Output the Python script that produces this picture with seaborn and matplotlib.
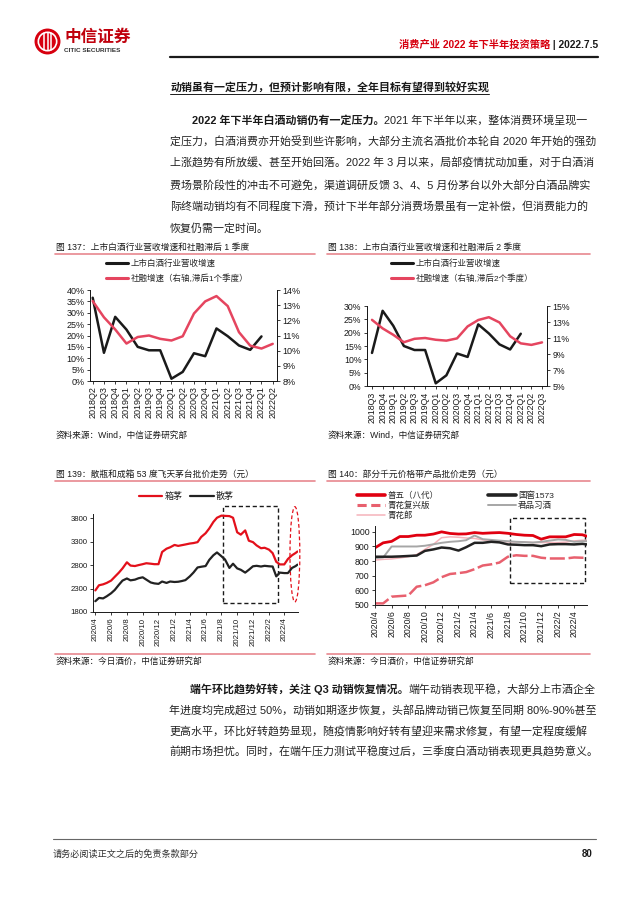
import matplotlib
matplotlib.use("Agg")
import numpy as np
import pandas as pd
import matplotlib.pyplot as plt
import matplotlib.dates as mdates
import seaborn as sns
from matplotlib.patches import Rectangle, Ellipse, Circle
from matplotlib.lines import Line2D
from matplotlib.ticker import FuncFormatter

# ---- data: fig 137 / 138 (quarterly) ----
quarters137 = ['2018Q2', '2018Q3', '2018Q4', '2019Q1', '2019Q2', '2019Q3', '2019Q4', '2020Q1', '2020Q2',
               '2020Q3', '2020Q4', '2021Q1', '2021Q2', '2021Q3', '2021Q4', '2022Q1', '2022Q2']
quarters138 = ['2018Q3', '2018Q4', '2019Q1', '2019Q2', '2019Q3', '2019Q4', '2020Q1', '2020Q2', '2020Q3',
               '2020Q4', '2021Q1', '2021Q2', '2021Q3', '2021Q4', '2022Q1', '2022Q2', '2022Q3']
# listed baijiu revenue growth (%), 2018Q2 .. 2022Q1
liquor_rev = [36.6, 12.4, 28.2, 22.6, 15.0, 13.5, 13.5, 1.0, 4.0, 12.2, 10.9, 23.1, 19.7, 15.6, 13.7, 19.6]
# social financing growth (%), lagged series
tsf_growth = [13.27, 12.2, 11.4, 10.47, 10.9, 11.0, 10.78, 10.67, 10.95, 12.45, 13.25, 13.6, 12.94,
              11.22, 10.33, 10.14, 10.45]

# ---- data: fig 139 (Feitian Moutai wholesale price) ----
dates139 = ['2020-04-01', '2020-04-15', '2020-05-01', '2020-05-15', '2020-06-01', '2020-06-15', '2020-07-01',
            '2020-07-15', '2020-08-01', '2020-08-15', '2020-09-01', '2020-09-15', '2020-10-01', '2020-10-15',
            '2020-11-01', '2020-11-15', '2020-12-01', '2020-12-15', '2021-01-01', '2021-01-15', '2021-02-01',
            '2021-02-15', '2021-03-01', '2021-03-15', '2021-04-01', '2021-04-15', '2021-05-01', '2021-05-15',
            '2021-06-01', '2021-06-15', '2021-07-01', '2021-07-15', '2021-08-01', '2021-08-15', '2021-09-01',
            '2021-09-15', '2021-10-01', '2021-10-15', '2021-11-01', '2021-11-15', '2021-12-01', '2021-12-15',
            '2022-01-01', '2022-01-15', '2022-02-01', '2022-02-15', '2022-03-01', '2022-03-15', '2022-04-01',
            '2022-04-15', '2022-05-01', '2022-05-15', '2022-05-22']
box_maotai = [2260, 2370, 2390, 2420, 2470, 2550, 2640, 2730, 2860, 2790, 2780, 2800, 2820, 2840, 2830, 2820,
              2820, 3080, 3150, 3180, 3230, 3210, 3225, 3240, 3260, 3270, 3290, 3400, 3480, 3580, 3720, 3810,
              3855, 3850, 3845, 3810, 3500, 3450, 3540, 3320, 3290, 3220, 3160, 3170, 3130, 3055, 2870, 2815,
              2815, 2930, 3010, 3060, 3090]
loose_maotai = [2030, 2100, 2090, 2135, 2200, 2270, 2380, 2470, 2515, 2475, 2490, 2520, 2540, 2490, 2430, 2410,
                2400, 2450, 2420, 2450, 2440, 2445, 2460, 2480, 2560, 2640, 2750, 2765, 2780, 2910, 3010, 3070,
                2990, 2920, 2740, 2830, 2730, 2700, 2640, 2700, 2775, 2785, 2770, 2785, 2775, 2770, 2560, 2640,
                2630, 2630, 2740, 2780, 2810]

# ---- data: fig 140 (1000-yuan products) ----
dates140 = ['2020-04-01', '2020-05-01', '2020-06-01', '2020-07-01', '2020-08-01', '2020-09-01', '2020-10-01',
            '2020-11-01', '2020-12-01', '2021-01-01', '2021-02-01', '2021-03-01', '2021-04-01', '2021-05-01',
            '2021-06-01', '2021-07-01', '2021-08-01', '2021-09-01', '2021-10-01', '2021-11-01', '2021-12-01',
            '2022-01-01', '2022-02-01', '2022-03-01', '2022-04-01', '2022-05-01', '2022-05-18']
puwu = [891, 925, 935, 968, 968, 977, 977, 985, 1000, 989, 985, 986, 995, 990, 993, 995, 990, 982, 977, 975,
        950, 966, 966, 966, 982, 980, 970]
guojiao = [830, 830, 830, 832, 835, 838, 870, 880, 893, 888, 872, 895, 925, 925, 932, 928, 914, 912, 909, 909,
           902, 914, 916, 916, 914, 918, 914]
junpin = [820, 825, 900, 900, 900, 900, 905, 915, 925, 932, 936, 943, 975, 950, 945, 940, 936, 932, 930, 927,
          932, 940, 948, 945, 932, 936, 936]
qinghualang = [807, 812, 815, 822, 830, 845, 880, 915, 960, 966, 963, 958, 955, 945, 940, 935, 932, 932, 930,
               927, 927, 927, 927, 930, 938, 943, 943]
fuxing = [511, 511, 557, 561, 565, 625, 635, 655, 690, 712, 718, 725, 745, 770, 778, 790, 830, 840, 836, 836,
          823, 818, 818, 818, 825, 823, 823]

# highlight windows drawn on fig 139 / 140
box139 = ('2021-08-08', '2022-03-06', 1990, 4070)
oval139 = ('2022-05-12', 3030, 38, 2030)
box140 = ('2021-08-07', '2022-05-09', 652, 1095)

RED = '#e5455f'
DARK = '#1a1a1a'

sns.set_theme(style="white")
plt.rcParams['font.family'] = ['Liberation Sans', 'Noto Sans CJK SC']
plt.rcParams['axes.unicode_minus'] = False

W, H = 640, 905
fig = plt.figure(figsize=(6.4, 9.05), dpi=100)
renderer = fig.canvas.get_renderer()


def fx(x):
    return x / W


def fy(y):
    return 1 - y / H


def box(l, t, r, b):
    return [fx(l), fy(b), (r - l) / W, (b - t) / H]


def put(x, y, s, size, weight='normal', color='#222222', ha='left'):
    return fig.text(fx(x), fy(y), s, fontsize=size, fontweight=weight, color=color, ha=ha, va='center')


def put_runs(x, y, runs, size):
    for s, weight, color in runs:
        t = put(x, y, s, size, weight, color)
        x += t.get_window_extent(renderer).width
    return x


def hline(x0, x1, y, color, lw):
    fig.add_artist(Line2D([fx(x0), fx(x1)], [fy(y), fy(y)], transform=fig.transFigure, color=color, lw=lw))


def style_axes(ax, size):
    for s in ax.spines.values():
        s.set_color(DARK)
        s.set_linewidth(0.7)
    ax.spines['top'].set_visible(False)
    ax.tick_params(direction='out', length=2.5, width=0.6, labelsize=size, pad=1.5, colors=DARK)
    ax.set_xlabel('')
    ax.set_ylabel('')


# ---------------- header ----------------
logo = fig.add_axes(box(34, 28, 61, 55))
logo.set_xlim(0, 1)
logo.set_ylim(0, 1)
logo.set_aspect('equal')
logo.axis('off')
logo.add_patch(Circle((0.5, 0.5), 0.48, fc='#d7000f', ec='none'))
logo.add_patch(Circle((0.5, 0.5), 0.34, fc='none', ec='white', lw=1.2))
for xx in (0.38, 0.5, 0.62):
    logo.plot([xx, xx], [0.2, 0.8], color='white', lw=1.1)
put(64, 37, '中信证券', 12.0, 'bold', '#c0000c')
put(64, 51, 'CITIC SECURITIES', 4.6, 'bold', '#333333')

t = put(598, 45, ' | 2022.7.5', 7.4, 'bold', DARK, ha='right')
put(598 - t.get_window_extent(renderer).width, 45, '消费产业 2022 年下半年投资策略', 7.4, 'bold', '#d7000f', ha='right')
hline(170, 598, 57, DARK, 1.6)

# ---------------- top text ----------------
FS = 7.9
x_end = put_runs(170, 87, [('动销虽有一定压力，但预计影响有限，全年目标有望得到较好实现', 'bold', DARK)], FS)
hline(170, x_end, 94, DARK, 0.7)

put_runs(192, 120.5, [('2022 年下半年白酒动销仍有一定压力。', 'bold', DARK),
                      ('2021 年下半年以来，整体消费环境呈现一', 'normal', '#222222')], FS)
para1 = ['定压力，白酒消费亦开始受到些许影响，大部分主流名酒批价本轮自 2020 年开始的强劲',
         '上涨趋势有所放缓、甚至开始回落。2022 年 3 月以来，局部疫情扰动加重，对于白酒消',
         '费场景阶段性的冲击不可避免，渠道调研反馈 3、4、5 月份茅台以外大部分白酒品牌实',
         '际终端动销均有不同程度下滑，预计下半年部分消费场景虽有一定补偿，但消费能力的',
         '恢复仍需一定时间。']
for i, line in enumerate(para1):
    put(170, 142 + i * 21.5, line, FS)

# ---------------- fig 137 ----------------
put(56, 247, '图 137：上市白酒行业营收增速和社融滞后 1 季度', 6.3, color=DARK)
hline(55, 315, 254, '#e8878f', 1.2)
df137 = pd.DataFrame({'pos': range(len(quarters137)), 'rev': liquor_rev + [np.nan], 'tsf': tsf_growth})
ax1 = fig.add_axes(box(90, 290, 277, 381))
sns.lineplot(data=df137, x='pos', y='rev', ax=ax1, color=DARK, lw=1.8)
ax1r = ax1.twinx()
sns.lineplot(data=df137, x='pos', y='tsf', ax=ax1r, color=RED, lw=1.8)
ax1.set_xlim(-0.24, 16.38)
ax1.set_ylim(0, 40)
ax1.set_yticks(range(0, 41, 5))
ax1r.set_ylim(8, 14)
ax1r.set_yticks(range(8, 15))
ax1.set_xticks(df137['pos'])
ax1.set_xticklabels(quarters137, rotation=90)
for a in (ax1, ax1r):
    style_axes(a, 6.5)
    a.yaxis.set_major_formatter(FuncFormatter(lambda v, p: f'{v:.0f}%'))
ax1.tick_params(bottom=True, left=True)
ax1r.tick_params(right=True)
fig.legend([Line2D([], [], color=DARK, lw=2.2), Line2D([], [], color=RED, lw=2.2)],
           ['上市白酒行业营收增速', '社融增速（右轴,滞后1个季度）'],
           loc='upper left', bbox_to_anchor=(fx(106), fy(259)), frameon=False, fontsize=6.1,
           handlelength=2.6, handletextpad=0.3, labelspacing=0.75, borderpad=0, borderaxespad=0)
put(56, 435, '资料来源：Wind，中信证券研究部', 6.2, color=DARK)

# ---------------- fig 138 ----------------
put(328, 247, '图 138：上市白酒行业营收增速和社融滞后 2 季度', 6.3, color=DARK)
hline(327, 590, 254, '#e8878f', 1.2)
df138 = pd.DataFrame({'pos': range(len(quarters138)), 'rev': liquor_rev[1:] + [np.nan, np.nan],
                      'tsf': tsf_growth})
ax2 = fig.add_axes(box(367, 306, 547, 386))
sns.lineplot(data=df138, x='pos', y='rev', ax=ax2, color=DARK, lw=1.8)
ax2r = ax2.twinx()
sns.lineplot(data=df138, x='pos', y='tsf', ax=ax2r, color=RED, lw=1.8)
ax2.set_xlim(-0.47, 16.47)
ax2.set_ylim(0, 30)
ax2.set_yticks(range(0, 31, 5))
ax2r.set_ylim(5, 15)
ax2r.set_yticks(range(5, 16, 2))
ax2.set_xticks(df138['pos'])
ax2.set_xticklabels(quarters138, rotation=90)
for a in (ax2, ax2r):
    style_axes(a, 6.3)
    a.yaxis.set_major_formatter(FuncFormatter(lambda v, p: f'{v:.0f}%'))
ax2.tick_params(bottom=True, left=True)
ax2r.tick_params(right=True)
fig.legend([Line2D([], [], color=DARK, lw=2.2), Line2D([], [], color=RED, lw=2.2)],
           ['上市白酒行业营收增速', '社融增速（右轴,滞后2个季度）'],
           loc='upper left', bbox_to_anchor=(fx(391), fy(259)), frameon=False, fontsize=6.1,
           handlelength=2.6, handletextpad=0.3, labelspacing=0.75, borderpad=0, borderaxespad=0)
put(328, 435, '资料来源：Wind，中信证券研究部', 6.2, color=DARK)

# ---------------- fig 139 ----------------
put(56, 474, '图 139：散瓶和成箱 53 度飞天茅台批价走势（元）', 6.3, color=DARK)
hline(55, 315, 481, '#e8878f', 1.2)
df139 = pd.DataFrame({'date': pd.to_datetime(dates139), 'box': box_maotai, 'loose': loose_maotai})
ax3 = fig.add_axes(box(93, 514, 298, 612))
sns.lineplot(data=df139, x='date', y='box', ax=ax3, color='#e3101b', lw=1.6, label='箱茅')
sns.lineplot(data=df139, x='date', y='loose', ax=ax3, color='#222222', lw=1.6, label='散茅')
ax3.set_xlim(pd.Timestamp('2020-03-23'), pd.Timestamp('2022-05-24'))
ax3.set_ylim(1800, 3890)
ax3.set_yticks(range(1800, 3801, 500))
ax3.xaxis.set_major_locator(mdates.MonthLocator(bymonth=[2, 4, 6, 8, 10, 12]))
ax3.xaxis.set_major_formatter(FuncFormatter(lambda v, p: f'{mdates.num2date(v).year}/{mdates.num2date(v).month}'))
style_axes(ax3, 5.6)
ax3.spines['right'].set_visible(False)
ax3.tick_params(bottom=True, left=True)
plt.setp(ax3.get_xticklabels(), rotation=90)
b0, b1 = mdates.date2num(pd.Timestamp(box139[0])), mdates.date2num(pd.Timestamp(box139[1]))
ax3.add_patch(Rectangle((b0, box139[2]), b1 - b0, box139[3] - box139[2], fill=False, ec=DARK,
                        ls=(0, (3, 2)), lw=1.0, clip_on=False))
ax3.add_patch(Ellipse((mdates.date2num(pd.Timestamp(oval139[0])), oval139[1]), oval139[2], oval139[3],
                      fill=False, ec='#e3101b', ls=(0, (3, 2)), lw=0.9, clip_on=False))
ax3.legend(loc='upper left', bbox_to_anchor=(fx(139), fy(492)), bbox_transform=fig.transFigure, ncol=2,
           frameon=False, fontsize=6.5, handlelength=2.6, handletextpad=0.2, columnspacing=0.9,
           borderpad=0, borderaxespad=0)
hline(55, 315, 654, '#e8878f', 1.2)
put(56, 661, '资料来源：今日酒价，中信证券研究部', 6.2, color=DARK)

# ---------------- fig 140 ----------------
put(328, 474, '图 140：部分千元价格带产品批价走势（元）', 6.3, color=DARK)
hline(327, 590, 481, '#e8878f', 1.2)
df140 = pd.DataFrame({'date': pd.to_datetime(dates140), 'puwu': puwu, 'guojiao': guojiao, 'junpin': junpin,
                      'qhl': qinghualang, 'fuxing': fuxing})
ax4 = fig.add_axes(box(375, 526, 587, 605))
sns.lineplot(data=df140, x='date', y='qhl', ax=ax4, color='#f5b3ba', lw=1.1)
sns.lineplot(data=df140, x='date', y='junpin', ax=ax4, color='#a6a6a6', lw=1.4)
sns.lineplot(data=df140, x='date', y='fuxing', ax=ax4, color='#e8606e', lw=1.8)
ax4.lines[-1].set_dashes((6, 1.5))
sns.lineplot(data=df140, x='date', y='guojiao', ax=ax4, color='#222222', lw=1.8)
sns.lineplot(data=df140, x='date', y='puwu', ax=ax4, color='#e00010', lw=2.0)
ax4.set_xlim(pd.Timestamp('2020-04-01'), pd.Timestamp('2022-05-18'))
ax4.set_ylim(500, 1040)
ax4.set_yticks(range(500, 1001, 100))
ax4.xaxis.set_major_locator(mdates.MonthLocator(bymonth=[2, 4, 6, 8, 10, 12]))
ax4.xaxis.set_major_formatter(FuncFormatter(lambda v, p: f'{mdates.num2date(v).year}/{mdates.num2date(v).month}'))
style_axes(ax4, 6.3)
ax4.spines['right'].set_visible(False)
ax4.tick_params(bottom=True, left=True)
plt.setp(ax4.get_xticklabels(), rotation=90)
c0, c1 = mdates.date2num(pd.Timestamp(box140[0])), mdates.date2num(pd.Timestamp(box140[1]))
ax4.add_patch(Rectangle((c0, box140[2]), c1 - c0, box140[3] - box140[2], fill=False, ec=DARK,
                        ls=(0, (3, 2)), lw=1.0, clip_on=False))
handles140 = [Line2D([], [], color='#e00010', lw=2.6),
              Line2D([], [], color='#e8606e', lw=2.2, dashes=(3, 1.5)),
              Line2D([], [], color='#f5b3ba', lw=1.1),
              Line2D([], [], color='#222222', lw=2.6),
              Line2D([], [], color='#a6a6a6', lw=1.4)]
fig.legend(handles140, ['普五（八代）', '青花复兴版', '青花郎', '国窖1573', '君品习酒'],
           loc='upper left', bbox_to_anchor=(fx(357), fy(491)), ncol=2, frameon=False, fontsize=6.1,
           handlelength=3.3, handletextpad=0.3, labelspacing=0.2, columnspacing=5.8,
           borderpad=0, borderaxespad=0)
hline(327, 590, 654, '#e8878f', 1.2)
put(328, 661, '资料来源：今日酒价，中信证券研究部', 6.2, color=DARK)

# ---------------- bottom text ----------------
put_runs(190, 689, [('端午环比趋势好转，关注 Q3 动销恢复情况。', 'bold', DARK),
                    ('端午动销表现平稳，大部分上市酒企全', 'normal', '#222222')], FS)
para2 = ['年进度均完成超过 50%，动销如期逐步恢复，头部品牌动销已恢复至同期 80%-90%甚至',
         '更高水平，环比好转趋势显现，随疫情影响好转有望迎来需求修复，有望一定程度缓解',
         '前期市场担忧。同时，在端午压力测试平稳度过后，三季度白酒动销表现更具趋势意义。']
for i, line in enumerate(para2):
    put(169, 710 + i * 21.2, line, FS)

# ---------------- footer ----------------
hline(53, 596, 839, '#666666', 0.8)
put(53, 854, '请务必阅读正文之后的免责条款部分', 6.6, color='#333333')
put(592, 854, '80', 7.0, 'bold', DARK, ha='right')

fig.savefig('out.png', dpi=100, facecolor='white')
